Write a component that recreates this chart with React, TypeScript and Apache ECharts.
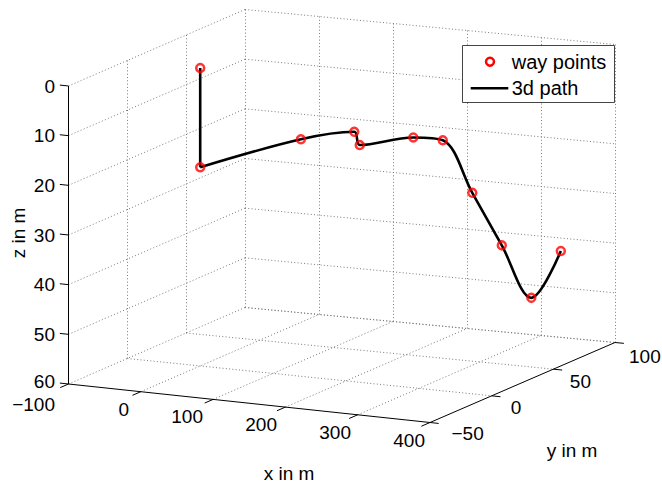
import React, { useEffect, useRef } from 'react';
import * as echarts from 'echarts';

// ---- axis ticks ----
const xTicks = [-100, 0, 100, 200, 300, 400];
const yTicks = [-50, 0, 50, 100];
const zTicks = [0, 10, 20, 30, 40, 50, 60];

// ---- way points (m) ----
const wayX = [0, 0, 40, 80, 120, 160, 200, 240, 280, 320, 360];
const wayY = [0, 0, 60, 80, 60, 80, 80, 80, 80, 80, 80];
const wayZ = [0, 20, 20, 20, 20, 20, 20, 30, 40, 50, 40];

const X_RANGE = [-100, 400];
const Y_RANGE = [-50, 100];
const Z_RANGE = [0, 60];

// screen corners of the top face (z = 0) of the 3D box; z grows downwards
const C00 = [68.5, 86];
const C10 = [430, 124.5];
const C01 = [245, 9.5];
const C11 = [615, 44.5];
const Z_PX = 298;

const FONT = '19px "Liberation Sans", Arial, sans-serif';
const LEG_FONT = '20px "Liberation Sans", Arial, sans-serif';
const fmt = (v: number) => (v < 0 ? '\u2212' + Math.abs(v) : String(v));

function project(x: number, y: number, z: number): [number, number] {
  const u = (x - X_RANGE[0]) / (X_RANGE[1] - X_RANGE[0]);
  const v = (y - Y_RANGE[0]) / (Y_RANGE[1] - Y_RANGE[0]);
  const w = (z - Z_RANGE[0]) / (Z_RANGE[1] - Z_RANGE[0]);
  const a = (1 - u) * (1 - v), b = u * (1 - v), c = (1 - u) * v, d = u * v;
  const sx = C00[0] * a + C10[0] * b + C01[0] * c + C11[0] * d;
  const sy = C00[1] * a + C10[1] * b + C01[1] * c + C11[1] * d + Z_PX * w;
  return [sx, sy];
}

function seg(p: [number, number, number], q: [number, number, number]) {
  return { coords: [project(p[0], p[1], p[2]), project(q[0], q[1], q[2])] };
}

export default function App() {
  const ref = useRef<HTMLDivElement>(null);
  useEffect(() => {
    if (!ref.current) return;
    const chart = echarts.init(ref.current, null, { renderer: 'svg' });
    const [x0, x1] = X_RANGE, [y0, y1] = Y_RANGE, [z0, z1] = Z_RANGE;

    // dotted grid lines on the three back planes
    const grid: any[] = [];
    yTicks.filter((y) => y !== y0).forEach((y) => grid.push(seg([x0, y, z0], [x0, y, z1])));
    zTicks.forEach((z) => grid.push(seg([x0, y0, z], [x0, y1, z])));
    xTicks.filter((x) => x !== x0).forEach((x) => grid.push(seg([x, y1, z0], [x, y1, z1])));
    zTicks.forEach((z) => grid.push(seg([x0, y1, z], [x1, y1, z])));
    xTicks.filter((x) => x !== x0 && x !== x1).forEach((x) => grid.push(seg([x, y0, z1], [x, y1, z1])));
    yTicks.filter((y) => y !== y0).forEach((y) => grid.push(seg([x0, y, z1], [x1, y, z1])));

    // solid axes and ticks
    const axes: any[] = [];
    axes.push(seg([x0, y0, z0], [x0, y0, z1]));
    axes.push(seg([x0, y0, z1], [x1, y0, z1]));
    axes.push(seg([x1, y0, z1], [x1, y1, z1]));
    zTicks.forEach((z) => axes.push(seg([x0, y0, z], [x0 - 12, y0, z])));
    xTicks.forEach((x) => axes.push(seg([x, y0, z1], [x, y0 - 7, z1])));
    yTicks.forEach((y) => axes.push(seg([x1, y, z1], [x1 + 12, y, z1])));

    const pts = wayX.map((x, i) => project(x, wayY[i], wayZ[i]));

    const texts: any[] = [];
    const txt = (x: number, y: number, s: string, align: string, rotation = 0, font = FONT) =>
      texts.push({
        type: 'text', x, y, rotation, z: 100, silent: true,
        style: { text: s, fill: '#000', font, align, textAlign: align, verticalAlign: 'middle', textVerticalAlign: 'middle' },
      });
    zTicks.forEach((z) => {
      const p = project(x0, y0, z);
      // the lowest label is nudged up a little so it clears the x label below it
      txt(p[0] - 13.5, p[1] - (z === z1 ? 2.5 : 0), fmt(z), 'right');
    });
    xTicks.forEach((x) => {
      const p = project(x, y0, z1);
      const u = (x - x0) / (x1 - x0);
      txt(p[0] - 13.5 + 8.5 * u, p[1] + 17.5 + (x === x0 ? 2.5 : 0), fmt(x), 'right');
    });
    yTicks.forEach((y) => {
      const p = project(x1, y, z1);
      const v = (y - y0) / (y1 - y0);
      txt(p[0] + 21.5 - 7.5 * v, p[1] + 10.8 + 3 * v, fmt(y), 'left');
    });
    txt(289, 473, 'x in m', 'center');
    txt(572, 450, 'y in m', 'center');
    txt(18, 233, 'z in m', 'center', Math.PI / 2);

    const legend: any[] = [
      { type: 'rect', z: 99, shape: { x: 462.5, y: 45.5, width: 152, height: 57 }, style: { fill: '#fff', stroke: '#444', lineWidth: 1 } },
      { type: 'circle', z: 100, shape: { cx: 490, cy: 61.7, r: 4 }, style: { fill: 'none', stroke: '#ff0000', lineWidth: 2.5 } },
      { type: 'line', z: 100, shape: { x1: 470.7, y1: 88.3, x2: 508.3, y2: 88.3 }, style: { stroke: '#000', lineWidth: 2.5 } },
      { type: 'text', z: 100, x: 511.7, y: 61.7, style: { text: 'way points', fill: '#000', font: LEG_FONT, align: 'left', textAlign: 'left', verticalAlign: 'middle', textVerticalAlign: 'middle' } },
      { type: 'text', z: 100, x: 511.7, y: 88.3, style: { text: '3d path', fill: '#000', font: LEG_FONT, align: 'left', textAlign: 'left', verticalAlign: 'middle', textVerticalAlign: 'middle' } },
    ];

    chart.setOption({
      animation: false,
      backgroundColor: '#fff',
      grid: { left: 0, right: 0, top: 0, bottom: 0 },
      xAxis: { type: 'value', min: 0, max: 662, show: false },
      yAxis: { type: 'value', min: 0, max: 485, inverse: true, show: false },
      series: [
        {
          type: 'lines', coordinateSystem: 'cartesian2d', silent: true, z: 1,
          lineStyle: { color: '#7a7a7a', width: 1, type: [1, 2.3], opacity: 1 },
          data: grid,
        },
        {
          type: 'lines', coordinateSystem: 'cartesian2d', silent: true, z: 2,
          lineStyle: { color: '#000', width: 1, type: 'solid', opacity: 1 },
          data: axes,
        },
        {
          name: '3d path', type: 'line', z: 3, symbol: 'none', silent: true,
          lineStyle: { color: '#000', width: 2.6 },
          data: pts.slice(0, 2),
        },
        {
          name: '3d path', type: 'line', z: 3, symbol: 'none', silent: true, smooth: 0.35,
          lineStyle: { color: '#000', width: 2.6 },
          data: pts.slice(1),
        },
        {
          name: 'way points', type: 'scatter', z: 4, symbol: 'circle', symbolSize: 8, silent: true,
          itemStyle: { color: 'rgba(255,255,255,0)', borderColor: '#ff0000', borderWidth: 2.5 },
          data: pts,
        },
      ],
      graphic: [...texts, ...legend],
    });
    return () => chart.dispose();
  }, []);
  return <div ref={ref} style={{ position: 'fixed', left: 0, top: 0, width: 662, height: 485 }} />;
}
